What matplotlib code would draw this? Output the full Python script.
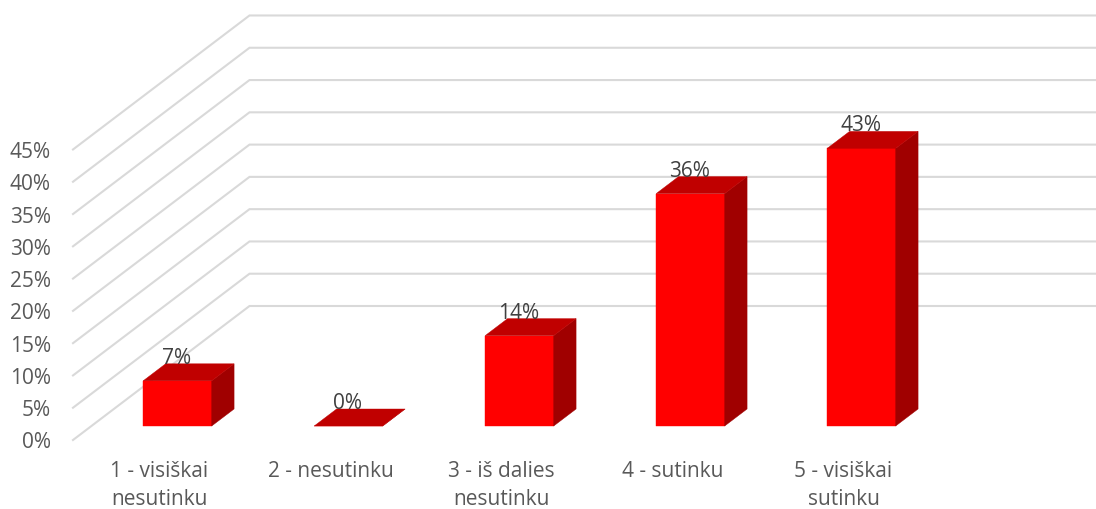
import matplotlib.pyplot as plt
from matplotlib.patches import Polygon

plt.rcParams['font.family'] = ['Open Sans', 'DejaVu Sans']

categorias = ['1 - visiškai\nnesutinku', '2 - nesutinku', '3 - iš dalies\nnesutinku', '4 - sutinku', '5 - visiškai\nsutinku']
valores = [7, 0, 14, 36, 43]
ticks = [0, 5, 10, 15, 20, 25, 30, 35, 40, 45]

# Escala del eje: categorias en x, porcentaje en y
px_cat = 171
px_pct = 6.456
prof_x = 176.5 / px_cat
prof_y = 134 / px_pct


def proy(x, v, d):
    # pasa (categoria, valor, profundidad 0-1) al plano del eje
    return (x + d * prof_x, v + d * prof_y)


fig = plt.figure(figsize=(10.96, 5.09), dpi=100)
ax = fig.add_axes([0, 0, 1, 1])
ax.set_xlim(-73 / px_cat, (1096 - 73) / px_cat)
ax.set_ylim(-69 / px_pct, 440 / px_pct)
ax.axis('off')

# Rejilla: tramo diagonal y tramo de la pared del fondo
for t in ticks:
    xs, ys = zip(proy(0, t, 0), proy(0, t, 1), proy(len(categorias), t, 1))
    ax.plot(xs, ys, color='#d9d9d9', lw=1.5, zorder=1, solid_joinstyle='miter')
    ax.annotate(f'{t}%', proy(0, t, 0), xytext=(-22, -3), textcoords='offset pixels',
                ha='right', va='center', fontsize=15, color='#595959')

# Barras
ancho = 68.5 / px_cat
d0 = 14 / 134
d1 = 31 / 134
for i, v in enumerate(valores):
    izq = i + 0.5 - ancho / 2 + 0.5 / px_cat
    der = izq + ancho
    frente = [proy(izq, 0, d0), proy(der, 0, d0), proy(der, v, d0), proy(izq, v, d0)]
    lado = [proy(der, 0, d0), proy(der, 0, d1), proy(der, v, d1), proy(der, v, d0)]
    tapa = [proy(izq, v, d0), proy(der, v, d0), proy(der, v, d1), proy(izq, v, d1)]
    ax.add_patch(Polygon(frente, closed=True, fc='#ff0000', ec='#ff0000', lw=0.3, zorder=3))
    ax.add_patch(Polygon(lado, closed=True, fc='#a00000', ec='#a00000', lw=0.3, zorder=3))
    ax.add_patch(Polygon(tapa, closed=True, fc='#c00000', ec='#c00000', lw=0.3, zorder=4))
    # el texto va centrado sobre el frente, apoyado en el borde trasero
    ax.annotate(f'{v}%', (proy(i + 0.5, v, d0)[0], proy(i + 0.5, v, d1)[1]), xytext=(0, 0),
                textcoords='offset pixels', ha='center', va='baseline', fontsize=15,
                color='#404040', zorder=5)

# Etiquetas de categorias
for i, c in enumerate(categorias):
    ax.annotate(c, (i + 0.5, 0), xytext=(1, -21), textcoords='offset pixels',
                ha='center', va='top', fontsize=15, color='#595959', linespacing=1.42)

fig.savefig('out.png', dpi=100)
